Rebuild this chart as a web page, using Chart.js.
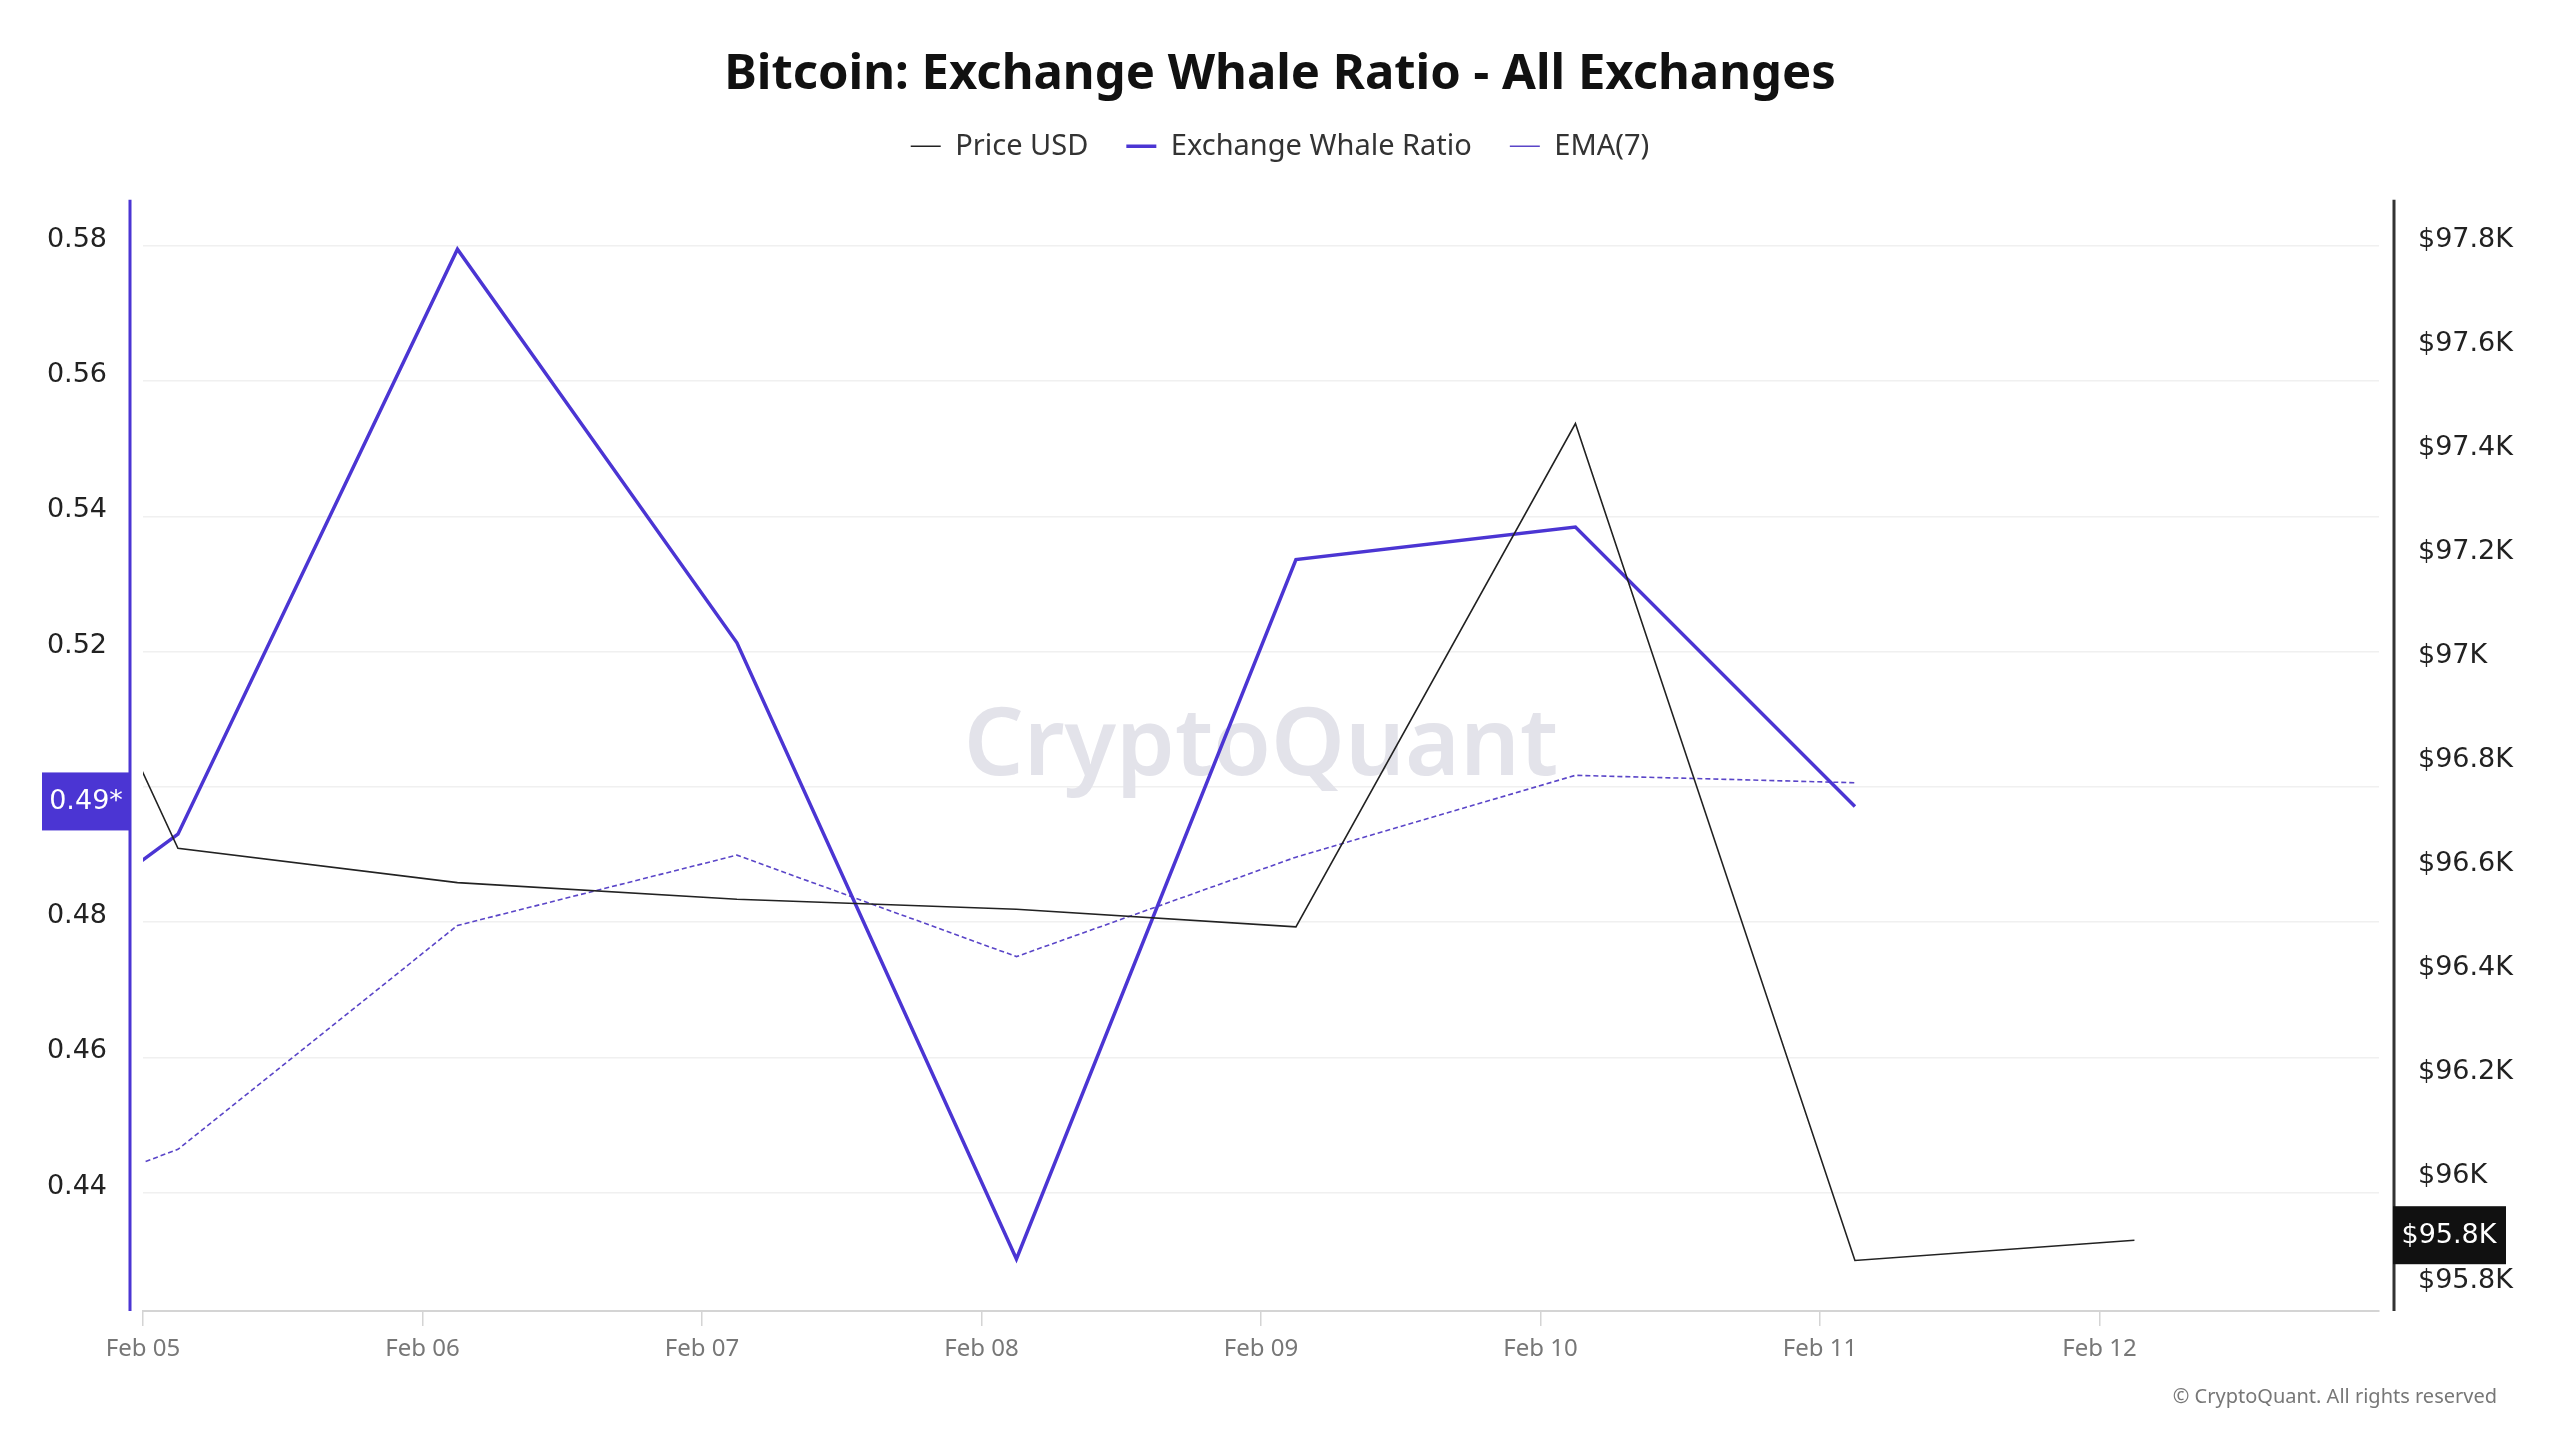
<!DOCTYPE html>
<html>
<head>
<meta charset="utf-8">
<title>Bitcoin: Exchange Whale Ratio - All Exchanges</title>
<script src="https://cdn.jsdelivr.net/npm/chart.js@4.4.1/dist/chart.umd.min.js"></script>
<style>
  html, body { margin: 0; padding: 0; background: #fff; }
  #wrap { width: 2560px; height: 1440px; position: relative; }
</style>
</head>
<body>
<div id="wrap"><canvas id="chart"></canvas></div>
<script>
// x values are days since Feb 05 00:00 (points sit at ~03:00 each day)
const tickLabels = ["Feb 05", "Feb 06", "Feb 07", "Feb 08", "Feb 09", "Feb 10", "Feb 11", "Feb 12"];
const pointDays = [-0.875, 0.125, 1.125, 2.125, 3.125, 4.125, 5.125, 6.125, 7.125];
const priceUSD = [97802, 96642, 96576, 96544, 96525, 96491, 97458, 95850, 95889];
const whaleRatio = [0.4626, 0.4930, 0.5795, 0.5213, 0.4302, 0.5336, 0.5384, 0.4971];
const ema7 = [0.4309, 0.4464, 0.4795, 0.4899, 0.4749, 0.4896, 0.5017, 0.5006];
const ratioTicks = [0.44, 0.46, 0.48, 0.50, 0.52, 0.54, 0.56, 0.58];
const priceTicks = [95800, 96000, 96200, 96400, 96600, 96800, 97000, 97200, 97400, 97600, 97800];

const purple = "#4b35d3";
const axisFont = { family: "DejaVu Sans", size: 27 };

Chart.defaults.font.family = "Noto Sans";

function toPoints(values) {
  return values.map((v, i) => ({ x: pointDays[i], y: v }));
}

const decor = {
  id: "decor",
  beforeDatasetsDraw(chart) {
    const { ctx, chartArea } = chart;
    ctx.save();
    ctx.font = "600 94px 'Noto Sans'";
    ctx.fillStyle = "#e3e3ea";
    ctx.textAlign = "center";
    ctx.textBaseline = "middle";
    ctx.fillText("CryptoQuant", (chartArea.left + chartArea.right) / 2, 748);
    ctx.restore();
  },
  afterDraw(chart) {
    const { ctx, chartArea } = chart;
    const yL = chart.scales.yRatio;
    const yR = chart.scales.yPrice;
    ctx.save();

    // axis lines, set a little away from the plot
    ctx.lineWidth = 3;
    ctx.strokeStyle = purple;
    ctx.beginPath();
    ctx.moveTo(chartArea.left - 13, chartArea.top);
    ctx.lineTo(chartArea.left - 13, chartArea.bottom);
    ctx.stroke();
    ctx.strokeStyle = "#333";
    ctx.beginPath();
    ctx.moveTo(chartArea.right + 15, chartArea.top);
    ctx.lineTo(chartArea.right + 15, chartArea.bottom);
    ctx.stroke();

    // last value labels
    const lastRatio = whaleRatio[whaleRatio.length - 1];
    const ly = yL.getPixelForValue(lastRatio) - 5;
    ctx.fillStyle = purple;
    ctx.fillRect(42, ly - 29, chartArea.left - 13 - 42, 58);
    ctx.fillStyle = "#fff";
    ctx.font = "27px 'DejaVu Sans'";
    ctx.textAlign = "center";
    ctx.textBaseline = "middle";
    ctx.fillText((Math.floor(lastRatio * 100) / 100).toFixed(2) + "*", (42 + chartArea.left - 13) / 2, ly + 1);

    const lastPrice = priceUSD[priceUSD.length - 1];
    const py = yR.getPixelForValue(lastPrice) - 5;
    const bx = chartArea.right + 14;
    ctx.fillStyle = "#111";
    ctx.fillRect(bx, py - 29, 113, 58);
    ctx.fillStyle = "#fff";
    ctx.fillText("$" + (Math.floor(lastPrice / 100) / 10).toFixed(1) + "K", bx + 56, py + 1);

    // copyright
    ctx.font = "20px 'Noto Sans'";
    ctx.fillStyle = "#777";
    ctx.textAlign = "right";
    ctx.fillText("\u00a9 CryptoQuant. All rights reserved", 2497, 1397);
    ctx.restore();
  }
};

new Chart(document.getElementById("chart"), {
  type: "line",
  data: {
    datasets: [
      {
        label: "Price USD",
        data: toPoints(priceUSD),
        yAxisID: "yPrice",
        borderColor: "#222",
        backgroundColor: "#222",
        borderWidth: 1.6,
        pointRadius: 0,
        pointStyle: "line",
        tension: 0
      },
      {
        label: "Exchange Whale Ratio",
        data: toPoints(whaleRatio),
        yAxisID: "yRatio",
        borderColor: purple,
        backgroundColor: purple,
        borderWidth: 3.5,
        pointRadius: 0,
        pointStyle: "line",
        tension: 0
      },
      {
        label: "EMA(7)",
        data: toPoints(ema7),
        yAxisID: "yRatio",
        borderColor: "#5a45c8",
        backgroundColor: "#5a45c8",
        borderWidth: 1.6,
        borderDash: [5, 3],
        pointRadius: 0,
        pointStyle: "line",
        tension: 0
      }
    ]
  },
  options: {
    responsive: true,
    maintainAspectRatio: false,
    devicePixelRatio: 1,
    animation: false,
    layout: { padding: { top: 57, left: 35, right: 35, bottom: 0 } },
    plugins: {
      title: {
        display: true,
        text: "Bitcoin: Exchange Whale Ratio - All Exchanges",
        color: "#111",
        font: { size: 49, weight: "bold", lineHeight: 0.75 },
        padding: 0
      },
      // empty spacer between legend and plot
      subtitle: {
        display: true,
        text: "",
        weight: 500,
        font: { size: 1, lineHeight: 1 },
        padding: { top: 28, bottom: 0 }
      },
      legend: {
        display: true,
        labels: {
          usePointStyle: true,
          pointStyleWidth: 30,
          boxHeight: 29,
          padding: 38,
          color: "#333",
          font: { size: 29 }
        }
      },
      tooltip: { enabled: false }
    },
    scales: {
      x: {
        type: "linear",
        min: 0,
        max: 8,
        afterBuildTicks(scale) {
          scale.ticks = tickLabels.map((_, i) => ({ value: i }));
        },
        afterFit(scale) { scale.height = 129; },
        ticks: {
          callback: (v) => tickLabels[v] || "",
          color: "#777",
          font: { size: 24 },
          padding: 9,
          maxRotation: 0
        },
        grid: { drawOnChartArea: false, tickLength: 15, color: "#d4d4d4", lineWidth: 1.5 },
        border: { color: "#d4d4d4", width: 2 }
      },
      yRatio: {
        position: "left",
        min: 0.4225,
        max: 0.5868,
        afterBuildTicks(scale) {
          scale.ticks = ratioTicks.map((v) => ({ value: v }));
        },
        afterFit(scale) { scale.width = 108; },
        ticks: {
          // 0.50 sits under the last-value tag, so it is not shown
          callback: (v) => (Math.abs(v - 0.5) < 1e-9 ? "" : v.toFixed(2)),
          color: "#222",
          font: axisFont,
          padding: 36,
          labelOffset: -6
        },
        grid: { color: "#f0f0f0", lineWidth: 1.5, drawTicks: false },
        border: { display: false }
      },
      yPrice: {
        position: "right",
        min: 95753,
        max: 97888,
        afterBuildTicks(scale) {
          scale.ticks = priceTicks.map((v) => ({ value: v }));
        },
        afterFit(scale) { scale.width = 146; },
        ticks: {
          callback: (v) => "$" + (v / 1000) + "K",
          color: "#222",
          font: axisFont,
          padding: 39,
          labelOffset: -6
        },
        grid: { drawOnChartArea: false, drawTicks: false },
        border: { display: false }
      }
    }
  },
  plugins: [decor]
});
</script>
</body>
</html>
